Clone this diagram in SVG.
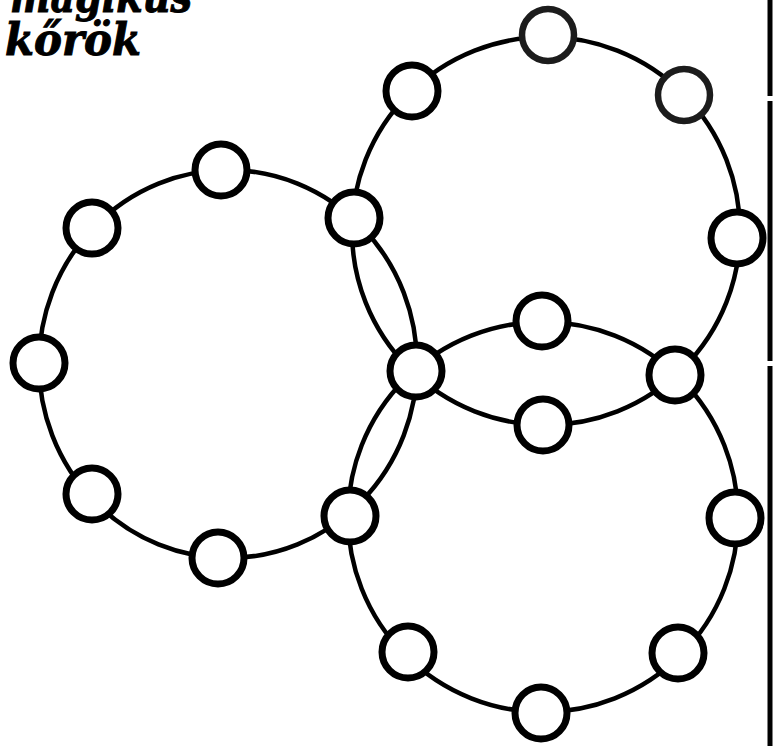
<svg xmlns="http://www.w3.org/2000/svg" width="776" height="746" viewBox="0 0 776 746">
<style>
.ring{fill:none;stroke:#000;stroke-width:4.5}
.node circle{fill:#fff;stroke:#000;stroke-width:7}
.faded circle{stroke:#1c1c1c;stroke-width:6.5}
.title{font-family:"DejaVu Serif","Liberation Serif",serif;font-weight:bold;font-style:italic;font-size:44px;fill:#000;stroke:#000;stroke-width:1}
.border{stroke:#000;stroke-width:5}
</style>
<rect width="776" height="746" fill="#fff"/>
<g id="title">
<text class="title" x="10" y="12" textLength="182" lengthAdjust="spacingAndGlyphs">mágikus</text>
<text class="title" x="5" y="55" textLength="136" lengthAdjust="spacingAndGlyphs">kőrök</text>
</g>
<g id="border">
<line class="border" x1="770" y1="0" x2="770" y2="96"/>
<line class="border" x1="770" y1="101" x2="770" y2="361"/>
<line class="border" x1="770" y1="366" x2="770" y2="746"/>
</g>
<g id="connectors">
<ellipse class="ring" cx="228" cy="364" rx="189" ry="194"/>
<circle class="ring" cx="546" cy="231" r="194"/>
<circle class="ring" cx="543" cy="517" r="195"/>
</g>
<g id="n1" class="node faded"><circle cx="548" cy="35" r="26"/></g>
<g id="n2" class="node faded"><circle cx="684" cy="95" r="26"/></g>
<g id="n3" class="node"><circle cx="412" cy="91" r="26"/></g>
<g id="n4" class="node"><circle cx="737" cy="238" r="26"/></g>
<g id="n5" class="node"><circle cx="354" cy="218" r="26"/></g>
<g id="n6" class="node"><circle cx="221" cy="170" r="26"/></g>
<g id="n7" class="node"><circle cx="92" cy="228" r="26"/></g>
<g id="n8" class="node"><circle cx="39" cy="363" r="26"/></g>
<g id="n9" class="node"><circle cx="92" cy="494" r="26"/></g>
<g id="n10" class="node"><circle cx="218" cy="558" r="26"/></g>
<g id="n11" class="node"><circle cx="350" cy="516" r="26"/></g>
<g id="n12" class="node"><circle cx="416" cy="371" r="26"/></g>
<g id="n13" class="node"><circle cx="542" cy="321" r="26"/></g>
<g id="n14" class="node"><circle cx="543" cy="425" r="26"/></g>
<g id="n15" class="node"><circle cx="675" cy="375" r="26"/></g>
<g id="n16" class="node"><circle cx="735" cy="518" r="26"/></g>
<g id="n17" class="node"><circle cx="408" cy="652" r="26"/></g>
<g id="n18" class="node"><circle cx="541" cy="713" r="26"/></g>
<g id="n19" class="node"><circle cx="678" cy="653" r="26"/></g>
</svg>
